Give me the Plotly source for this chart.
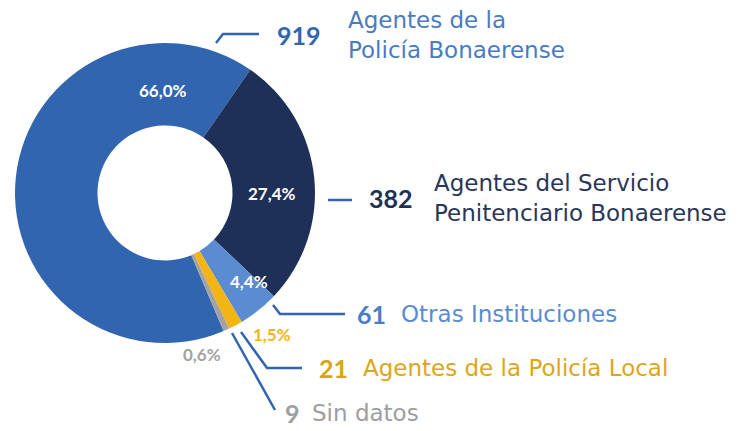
import plotly.graph_objects as go

# ---- data ----
categories = ["Agentes de la<br>Policía Bonaerense",
              "Agentes del Servicio<br>Penitenciario Bonaerense",
              "Otras Instituciones",
              "Agentes de la Policía Local",
              "Sin datos"]
values = [919, 382, 61, 21, 9]
slice_colors = ["#3265AF", "#1F3058", "#5B8BD0", "#F4B512", "#A3A3A3"]
number_colors = ["#3265AF", "#1F3058", "#4B7CC6", "#D9A411", "#9E9E9E"]
text_colors = ["#4A7BC2", "#2A3659", "#5B8BD0", "#DDA61A", "#9E9E9E"]
pct_colors = ["white", "white", "white", "#F4B512", "#A3A3A3"]

OFF = 8  # default page body margin
W, H = 742 - OFF, 431 - OFF
total = sum(values)
pcts = [f"{v / total * 100:.1f}".replace(".", ",") + "%" for v in values]

def px(x):
    return (x - OFF) / W

def py(y):
    return 1 - (y - OFF) / H

# donut geometry (page pixels)
cx, cy, R = 165, 193, 150

fig = go.Figure(go.Pie(
    labels=[c.replace("<br>", " ") for c in categories],
    values=values,
    sort=False,
    direction="clockwise",
    rotation=157,
    hole=0.45,
    marker=dict(colors=slice_colors, line=dict(width=0)),
    textinfo="none",
    hoverinfo="label+value+percent",
    domain=dict(x=[px(cx - R), px(cx + R)], y=[py(cy + R), py(cy - R)]),
    showlegend=False,
))

font_num = "Lato"
font_txt = "DejaVu Sans"

# percent label positions (page pixels)
pct_pos = [(163, 90), (272, 193), (249, 281), (272, 334), (202, 354)]
anns = []
for p, (x, y), c in zip(pcts, pct_pos, pct_colors):
    anns.append(dict(x=px(x), y=py(y), xref="paper", yref="paper", text=p,
                     showarrow=False, xanchor="center", yanchor="middle",
                     font=dict(family=font_num, size=17, color=c, weight="bold")))

# number + category labels
num_pos = [(275, 35), (367, 198), (355, 314), (317, 368), (283, 413)]
txt_pos = [(346, 35), (432, 198), (399, 314), (361, 368), (310, 413)]
for v, (nx, ny), (tx, ty), nc, tc, cat in zip(values, num_pos, txt_pos,
                                              number_colors, text_colors, categories):
    anns.append(dict(x=px(nx), y=py(ny), xref="paper", yref="paper", text=str(v),
                     showarrow=False, xanchor="left", yanchor="middle",
                     font=dict(family=font_num, size=25, color=nc, weight="bold")))
    anns.append(dict(x=px(tx), y=py(ty), xref="paper", yref="paper", text=cat,
                     showarrow=False, xanchor="left", yanchor="middle", align="left",
                     font=dict(family=font_txt, size=23, color=tc)))

# leader lines (page pixels)
leaders = [
    [(216, 43), (223, 34), (259, 34)],
    [(328, 200), (352, 200)],
    [(273, 305), (280, 314), (345, 314)],
    [(241, 332), (267, 368), (302, 368)],
    [(232, 333), (275, 410)],
]
line_color = "#3265AF"
shapes = []
for pts in leaders:
    path = "M " + " L ".join(f"{px(x)},{py(y)}" for x, y in pts)
    shapes.append(dict(type="path", path=path, xref="paper", yref="paper",
                       line=dict(color=line_color, width=2.5)))

fig.update_layout(
    width=W, height=H,
    margin=dict(l=0, r=0, t=0, b=0),
    paper_bgcolor="white", plot_bgcolor="white",
    annotations=anns, shapes=shapes,
)

fig.write_html("out.html")
